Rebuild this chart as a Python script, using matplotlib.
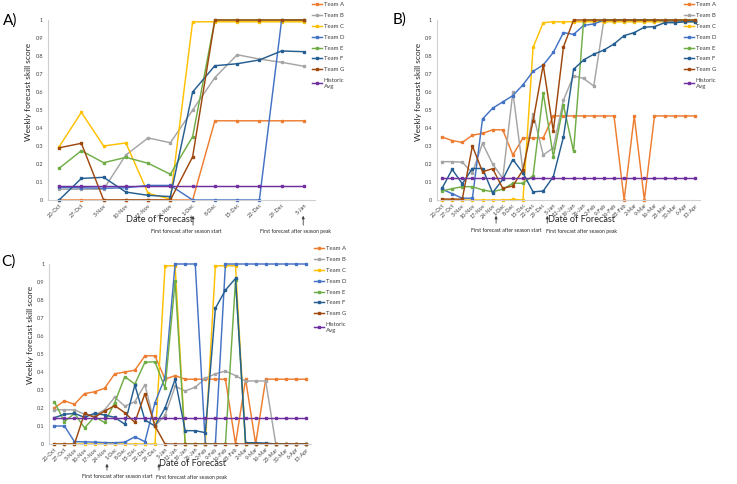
import matplotlib
matplotlib.use('Agg')
import matplotlib.pyplot as plt

plt.rcParams['font.family'] = ['Lato', 'DejaVu Sans']

W, H = 737, 484

team_names = ['Team A', 'Team B', 'Team C', 'Team D', 'Team E', 'Team F', 'Team G', 'Historic\nAvg']
team_colors = ['#ED7D31', '#A5A5A5', '#FFC000', '#4472C4', '#70AD47', '#255E91', '#9E480E', '#7030A0']

dates_a = ['20-Oct', '27-Oct', '3-Nov', '10-Nov', '17-Nov', '24-Nov', '1-Dec', '8-Dec',
           '15-Dec', '22-Dec', '29-Dec', '5-Jan']
dates_bc = ['20-Oct', '27-Oct', '3-Nov', '10-Nov', '17-Nov', '24-Nov', '1-Dec', '8-Dec',
            '15-Dec', '22-Dec', '29-Dec', '5-Jan', '12-Jan', '19-Jan', '26-Jan', '2-Feb',
            '9-Feb', '16-Feb', '23-Feb', '2-Mar', '9-Mar', '16-Mar', '23-Mar', '30-Mar',
            '6-Apr', '13-Apr']

# Panel A
a_team_a = [0, 0, 0, 0, 0, 0, 0, 0.44, 0.44, 0.44, 0.44, 0.44]
a_team_b = [0.06, 0.06, 0.06, 0.25, 0.345, 0.318, 0.50, 0.68, 0.807, 0.783, 0.765, 0.743]
a_team_c = [0.296, 0.487, 0.30, 0.317, 0.037, 0.005, 0.99, 0.99, 0.99, 0.99, 0.99, 0.99]
a_team_d = [0.07, 0.068, 0.065, 0.068, 0.081, 0.081, 0, 0, 0, 0, 1.0, 1.0]
a_team_e = [0.176, 0.274, 0.207, 0.237, 0.204, 0.143, 0.352, 1.0, 1.0, 1.0, 1.0, 1.0]
a_team_f = [0.0, 0.12, 0.126, 0.044, 0.026, 0.019, 0.60, 0.746, 0.757, 0.778, 0.828, 0.824]
a_team_g = [0.29, 0.315, 0, 0, 0, 0, 0.24, 1.0, 1.0, 1.0, 1.0, 1.0]
a_hist = [0.077, 0.077, 0.077, 0.077, 0.077, 0.077, 0.077, 0.077, 0.077, 0.077, 0.077, 0.077]

# Panel B
b_team_a = [0.35, 0.33, 0.32, 0.36, 0.37, 0.39, 0.39, 0.25, 0.345, 0.345, 0.345, 0.467, 0.467,
            0.467, 0.467, 0.467, 0.467, 0.467, 0, 0.467, 0, 0.467, 0.467, 0.467, 0.467, 0.467]
b_team_b = [0.213, 0.213, 0.21, 0.15, 0.315, 0.2, 0.12, 0.6, 0.16, 0.48, 0.25, 0.29, 0.555,
            0.69, 0.675, 0.633, 1.0, 0.995, 0.995, 0.995, 0.995, 0.995, 0.995, 0.995, 0.995, 0.995]
b_team_c = [0, 0, 0, 0, 0, 0, 0, 0.003, 0, 0.848, 0.985, 0.99, 0.99, 0.99, 0.99, 0.99, 0.99,
            0.99, 0.99, 0.99, 0.99, 0.99, 0.99, 0.99, 0.99, 0.99]
b_team_d = [0.06, 0.035, 0.01, 0.01, 0.45, 0.51, 0.545, 0.58, 0.64, 0.715, 0.75, 0.82, 0.93,
            0.92, 0.97, 0.978, 1.0, 1.0, 1.0, 1.0, 1.0, 1.0, 0.995, 0.995, 0.995, 0.995]
b_team_e = [0.05, 0.063, 0.074, 0.074, 0.056, 0.046, 0.06, 0.093, 0.093, 0.135, 0.596, 0.24,
            0.528, 0.27, 1.0, 1.0, 1.0, 1.0, 1.0, 1.0, 1.0, 1.0, 1.0, 1.0, 1.0, 1.0]
b_team_f = [0.065, 0.17, 0.09, 0.175, 0.175, 0.04, 0.115, 0.225, 0.15, 0.045, 0.05, 0.13, 0.35,
            0.726, 0.778, 0.81, 0.833, 0.867, 0.913, 0.93, 0.96, 0.963, 0.985, 0.985, 0.99, 0.99]
b_team_g = [0.005, 0.005, 0.005, 0.3, 0.157, 0.174, 0.065, 0.078, 0.167, 0.44, 0.75, 0.383,
            0.85, 1.0, 1.0, 1.0, 1.0, 1.0, 1.0, 1.0, 1.0, 1.0, 1.0, 1.0, 1.0, 1.0]
b_hist = [0.12, 0.12, 0.12, 0.12, 0.12, 0.12, 0.12, 0.12, 0.12, 0.12, 0.12, 0.12, 0.12,
          0.12, 0.12, 0.12, 0.12, 0.12, 0.12, 0.12, 0.12, 0.12, 0.12, 0.12, 0.12, 0.12]

# Panel C
c_team_a = [0.2, 0.24, 0.22, 0.28, 0.29, 0.31, 0.39, 0.40, 0.41, 0.49, 0.49, 0.36, 0.38,
            0.36, 0.36, 0.36, 0.36, 0.36, 0, 0.36, 0, 0.36, 0.36, 0.36, 0.36, 0.36]
c_team_b = [0.19, 0.19, 0.19, 0.165, 0.16, 0.19, 0.26, 0.21, 0.235, 0.33, 0.1, 0.16, 0.32,
            0.295, 0.315, 0.365, 0.39, 0.405, 0.38, 0.35, 0.35, 0.35, 0, 0, 0, 0]
c_team_c = [0, 0, 0, 0, 0, 0, 0, 0, 0, 0, 0, 0.99, 0.99, 0, 0, 0, 0.99, 0.99, 0.99, 0, 0, 0,
            0, 0, 0, 0]
c_team_d = [0.1, 0.1, 0.013, 0.012, 0.01, 0.008, 0.007, 0.01, 0.04, 0.013, 0.23, 0.37, 1.0,
            1.0, 1.0, 0, 0, 1.0, 1.0, 1.0, 1.0, 1.0, 1.0, 1.0, 1.0, 1.0]
c_team_e = [0.235, 0.124, 0.17, 0.09, 0.15, 0.12, 0.23, 0.374, 0.333, 0.454, 0.457, 0.31,
            0.905, 0, 0, 0, 0, 0, 0.91, 0, 0, 0, 0, 0, 0, 0]
c_team_f = [0.146, 0.165, 0.17, 0.148, 0.17, 0.161, 0.148, 0.11, 0.328, 0.133, 0.1, 0.2, 0.36,
            0.074, 0.074, 0.063, 0.754, 0.855, 0.92, 0.007, 0.007, 0.005, 0, 0, 0, 0]
c_team_g = [0, 0, 0, 0.17, 0.148, 0.183, 0.213, 0.174, 0.12, 0.28, 0.1, 0, 0, 0, 0, 0, 0, 0,
            0, 0, 0, 0, 0, 0, 0, 0]
c_hist = [0.144, 0.144, 0.144, 0.144, 0.144, 0.144, 0.144, 0.144, 0.144, 0.144, 0.144, 0.144,
          0.144, 0.144, 0.144, 0.144, 0.144, 0.144, 0.144, 0.144, 0.144, 0.144, 0.144, 0.144,
          0.144, 0.144]

yticks = [0, 0.1, 0.2, 0.3, 0.4, 0.5, 0.6, 0.7, 0.8, 0.9, 1]
ytick_labels = ['0', '0.1', '0.2', '0.3', '0.4', '0.5', '0.6', '0.7', '0.8', '0.9', '1']
note_start = 'First forecast after season start'
note_peak = 'First forecast after season peak'

fig = plt.figure(figsize=(W / 100, H / 100), dpi=100)


def rect(left, right, top, bottom):
    return [left / W, 1 - bottom / H, (right - left) / W, (bottom - top) / H]


def draw_panel(box, dates, series, legend_xy, label, label_xy, ytitle_xy, xtitle_xy,
               arrows, note_y, arrow_y):
    ax = fig.add_axes(rect(*box))
    x = list(range(len(dates)))
    for name, col, vals in zip(team_names, team_colors, series):
        ax.plot(x, vals, color=col, lw=1.05, marker='s', ms=1.7, label=name,
                clip_on=False, solid_joinstyle='miter')
    ax.set_xlim(-0.5, len(dates) - 0.5)
    ax.set_ylim(0, 1)
    ax.set_yticks(yticks)
    ax.set_yticklabels(ytick_labels, fontsize=4.0, color='#404040')
    ax.set_xticks(x)
    ax.set_xticklabels(dates, rotation=45, ha='right', rotation_mode='anchor',
                       fontsize=4.0, color='#404040')
    ax.tick_params(axis='y', length=0, pad=3.5)
    ax.tick_params(axis='x', length=0, pad=2)
    for s in ['top', 'right']:
        ax.spines[s].set_visible(False)
    for s in ['left', 'bottom']:
        ax.spines[s].set_color('#D0D0D0')
        ax.spines[s].set_linewidth(0.8)
    leg = ax.legend(loc='upper left', bbox_to_anchor=(legend_xy[0] / W, 1 - legend_xy[1] / H),
                    bbox_transform=fig.transFigure, frameon=False, fontsize=4.3,
                    handlelength=1.6, handletextpad=0.4, labelspacing=0.95,
                    borderpad=0, borderaxespad=0)
    for t in leg.get_texts():
        t.set_color('#404040')
    fig.text(label_xy[0] / W, 1 - label_xy[1] / H, label, fontsize=11, ha='center', va='center')
    fig.text(ytitle_xy[0] / W, 1 - ytitle_xy[1] / H, 'Weekly forecast skill score',
             rotation=90, fontsize=6.0, ha='center', va='center', color='#262626')
    fig.text(xtitle_xy[0] / W, 1 - xtitle_xy[1] / H, 'Date of Forecast',
             fontsize=6.6, ha='center', va='center', color='#262626')
    for (ax_x, tx, txt) in arrows:
        ax.annotate('', xy=(ax_x, 1 - arrow_y[0] / H), xycoords=('data', 'figure fraction'),
                    xytext=(ax_x, 1 - arrow_y[1] / H), textcoords=('data', 'figure fraction'),
                    arrowprops=dict(arrowstyle='-|>', lw=0.6, color='#404040',
                                    mutation_scale=4), annotation_clip=False)
        fig.text(tx / W, 1 - note_y / H, txt, fontsize=3.7, ha='center', va='center',
                 color='#262626')
    return ax


draw_panel((48, 315, 20, 200), dates_a,
           [a_team_a, a_team_b, a_team_c, a_team_d, a_team_e, a_team_f, a_team_g, a_hist],
           (312, 2), 'A)', (10, 21), (29, 92), (160, 220),
           [(6.02, 186, note_start), (10.97, 295, note_peak)], 232, (213, 228))

draw_panel((437, 700, 20, 200), dates_bc,
           [b_team_a, b_team_b, b_team_c, b_team_d, b_team_e, b_team_f, b_team_g, b_hist],
           (684, 2), 'B)', (400, 20), (418, 92), (582, 219),
           [(5.34, 506, note_start), (10.4, 581, note_peak)], 231, (213, 226))

draw_panel((49.3, 311, 264, 444), dates_bc,
           [c_team_a, c_team_b, c_team_c, c_team_d, c_team_e, c_team_f, c_team_g, c_hist],
           (314, 246), 'C)', (8, 262), (31, 335), (193, 463),
           [(5.23, 117, note_start), (10.4, 191, note_peak)], 477, (461, 473))

fig.savefig('out.png', dpi=100)
